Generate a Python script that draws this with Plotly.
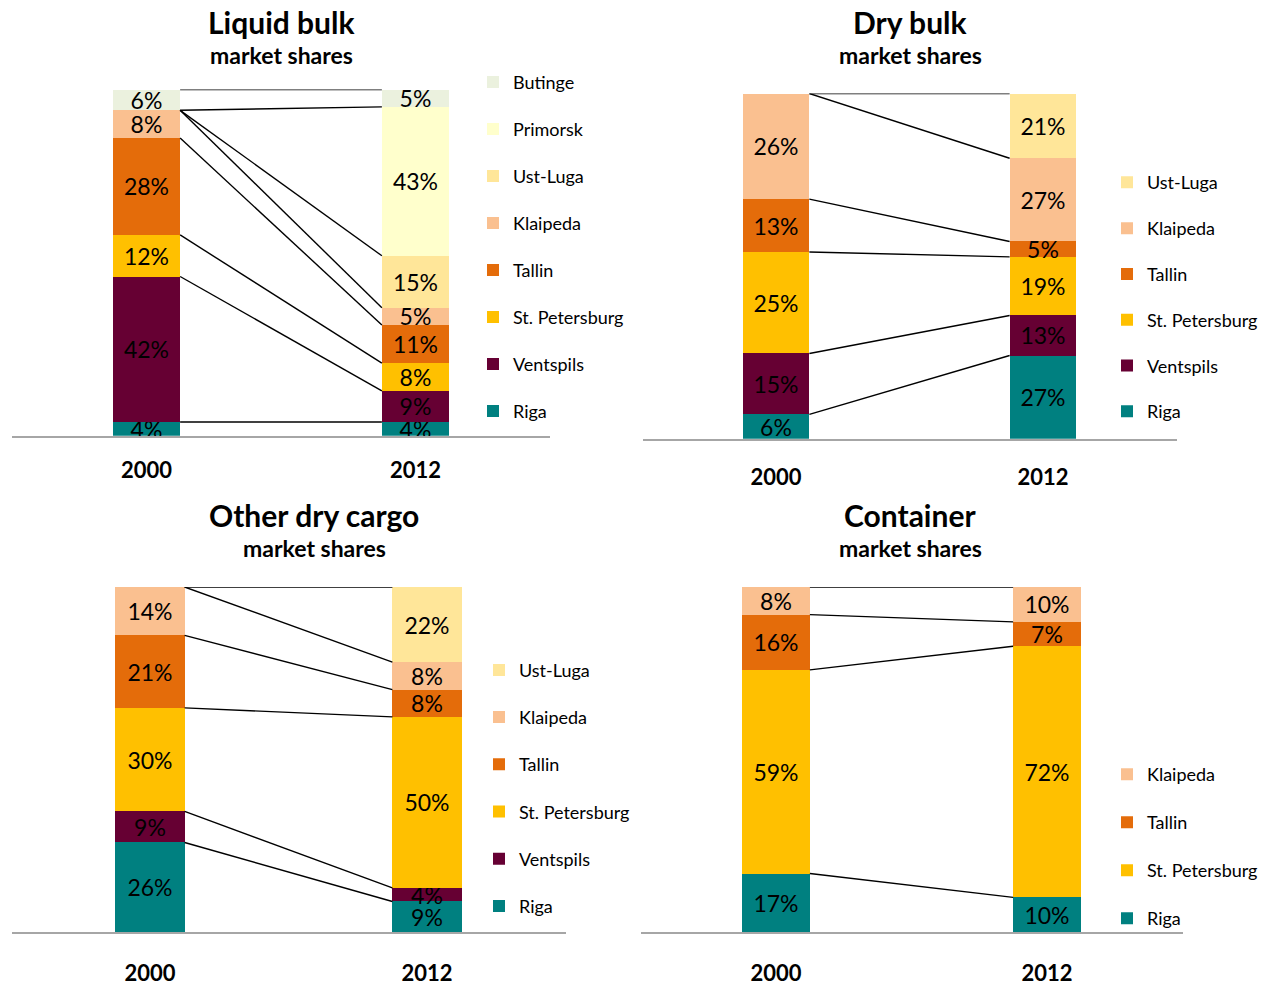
import plotly.graph_objects as go

FONT = "Lato"

years = ["2000", "2012"]

# Liquid bulk market shares (%), bottom to top of the stack
liquid_ports = ["Riga", "Ventspils", "St. Petersburg", "Tallin", "Klaipeda",
                "Ust-Luga", "Primorsk", "Butinge"]
liquid_2000 = [4, 42, 12, 28, 8, 0, 0, 6]
liquid_2012 = [4, 9, 8, 11, 5, 15, 43, 5]

# Dry bulk market shares (%)
dry_ports = ["Riga", "Ventspils", "St. Petersburg", "Tallin", "Klaipeda", "Ust-Luga"]
dry_2000 = [6, 15, 25, 13, 26, 0]
dry_2012 = [27, 13, 19, 5, 27, 21]

# Other dry cargo market shares (%)
other_ports = ["Riga", "Ventspils", "St. Petersburg", "Tallin", "Klaipeda", "Ust-Luga"]
other_2000 = [26, 9, 30, 21, 14, 0]
other_2012 = [9, 4, 50, 8, 8, 22]

# Container market shares (%)
container_ports = ["Riga", "St. Petersburg", "Tallin", "Klaipeda"]
container_2000 = [17, 59, 16, 8]
container_2012 = [10, 72, 7, 10]

port_colors = {
    "Riga": "#008080",
    "Ventspils": "#660033",
    "St. Petersburg": "#FFC000",
    "Tallin": "#E46C0A",
    "Klaipeda": "#FAC090",
    "Ust-Luga": "#FFE699",
    "Primorsk": "#FFFFCC",
    "Butinge": "#EBF1DE",
}

panels = [
    dict(title="Liquid bulk", ports=liquid_ports, a=liquid_2000, b=liquid_2012,
         xdom=[12 / 1275, 550 / 1275], ydom=[(986 - 438) / 986, (986 - 90) / 986],
         title_x=281 / 1275, title_y=22, sub_y=55, ticklen=14,
         leg_x=473 / 1275, leg_y=(986 - 64) / 986, gap=20.6),
    dict(title="Dry bulk", ports=dry_ports, a=dry_2000, b=dry_2012,
         xdom=[642.5 / 1275, 1176.5 / 1275], ydom=[(986 - 441) / 986, (986 - 94) / 986],
         title_x=910 / 1275, title_y=22, sub_y=55, ticklen=18,
         leg_x=1107 / 1275, leg_y=(986 - 165) / 986, gap=19.4),
    dict(title="Other dry cargo", ports=other_ports, a=other_2000, b=other_2012,
         xdom=[11.5 / 1275, 565.5 / 1275], ydom=[(986 - 937) / 986, (986 - 590) / 986],
         title_x=314 / 1275, title_y=518, sub_y=551, ticklen=20,
         leg_x=479 / 1275, leg_y=(986 - 655) / 986, gap=20.8),
    dict(title="Container", ports=container_ports, a=container_2000, b=container_2012,
         xdom=[640.5 / 1275, 1182.5 / 1275], ydom=[(986 - 937) / 986, (986 - 590) / 986],
         title_x=910 / 1275, title_y=518, sub_y=551, ticklen=20,
         leg_x=1107 / 1275, leg_y=(986 - 760) / 986, gap=21.6),
]

BAR_W = 0.25
Y_TOP = 100.001  # a hair above 100 so the top segment's label is never culled
fig = go.Figure()
annotations = []
layout_axes = {}

for i, p in enumerate(panels, start=1):
    xa = "x" if i == 1 else f"x{i}"
    ya = "y" if i == 1 else f"y{i}"
    leg = "legend" if i == 1 else f"legend{i}"
    n = len(p["ports"])

    # stacked segments, one trace per port; legend lists the top segment first
    for k, (port, va, vb) in enumerate(zip(p["ports"], p["a"], p["b"])):
        fig.add_trace(go.Bar(
            x=[0, 1], y=[va, vb], width=BAR_W, name=port,
            marker=dict(color=port_colors[port], line=dict(width=0)),
            text=[f"{va}%" if va else "", f"{vb}%" if vb else ""],
            textposition="inside", insidetextanchor="middle", textangle=0,
            textfont=dict(family=FONT, size=23, color="black"),
            cliponaxis=False, hoverinfo="name+y",
            xaxis=xa, yaxis=ya, legend=leg,
            legendgroup=f"{i}-{port}", legendrank=n - k,
        ))

    # series lines joining the top of each port's segment across the two years
    tot_a, tot_b = sum(p["a"]), sum(p["b"])
    lx, ly = [], []
    cum_a = cum_b = 0
    for va, vb in zip(p["a"], p["b"]):
        cum_a += va
        cum_b += vb
        lx += [BAR_W / 2, 1 - BAR_W / 2, None]
        ly += [cum_a / tot_a * 100, cum_b / tot_b * 100, None]
    fig.add_trace(go.Scatter(
        x=lx, y=ly, mode="lines", line=dict(color="black", width=1.4),
        showlegend=False, hoverinfo="skip", cliponaxis=False,
        xaxis=xa, yaxis=ya,
    ))

    xkey = "xaxis" if i == 1 else f"xaxis{i}"
    ykey = "yaxis" if i == 1 else f"yaxis{i}"
    layout_axes[xkey] = dict(
        domain=p["xdom"], range=[-0.5, 1.5], anchor=ya,
        showgrid=False, zeroline=False,
        showline=True, linecolor="#A6A6A6", linewidth=2,
        tickvals=[0, 1], ticktext=years,
        ticks="outside", ticklen=p["ticklen"], tickcolor="rgba(0,0,0,0)",
        tickfont=dict(family=FONT, size=22, color="black", weight="bold"),
        fixedrange=True,
    )
    layout_axes[ykey] = dict(
        domain=p["ydom"], range=[0, Y_TOP], anchor=xa, visible=False, fixedrange=True,
    )
    layout_axes[leg] = dict(
        x=p["leg_x"], y=p["leg_y"], xanchor="left", yanchor="top",
        traceorder="grouped", tracegroupgap=p["gap"],
        font=dict(family=FONT, size=18, color="black"),
        bgcolor="rgba(0,0,0,0)", itemclick=False, itemdoubleclick=False,
    )

    annotations.append(dict(
        x=p["title_x"], y=1 - p["title_y"] / 986, xref="paper", yref="paper",
        text="<b>" + p["title"] + "</b>", showarrow=False,
        xanchor="center", yanchor="middle",
        font=dict(family=FONT, size=30, color="black"),
    ))
    annotations.append(dict(
        x=p["title_x"], y=1 - p["sub_y"] / 986, xref="paper", yref="paper",
        text="<b>market shares</b>", showarrow=False,
        xanchor="center", yanchor="middle",
        font=dict(family=FONT, size=23, color="black"),
    ))

fig.update_layout(
    width=1275, height=986,
    margin=dict(l=0, r=0, t=0, b=0),
    paper_bgcolor="white", plot_bgcolor="white",
    barmode="stack", barnorm="percent",
    uniformtext=dict(minsize=23, mode="show"),
    annotations=annotations,
    font=dict(family=FONT, color="black"),
    **layout_axes,
)

fig.write_html("out.html")
